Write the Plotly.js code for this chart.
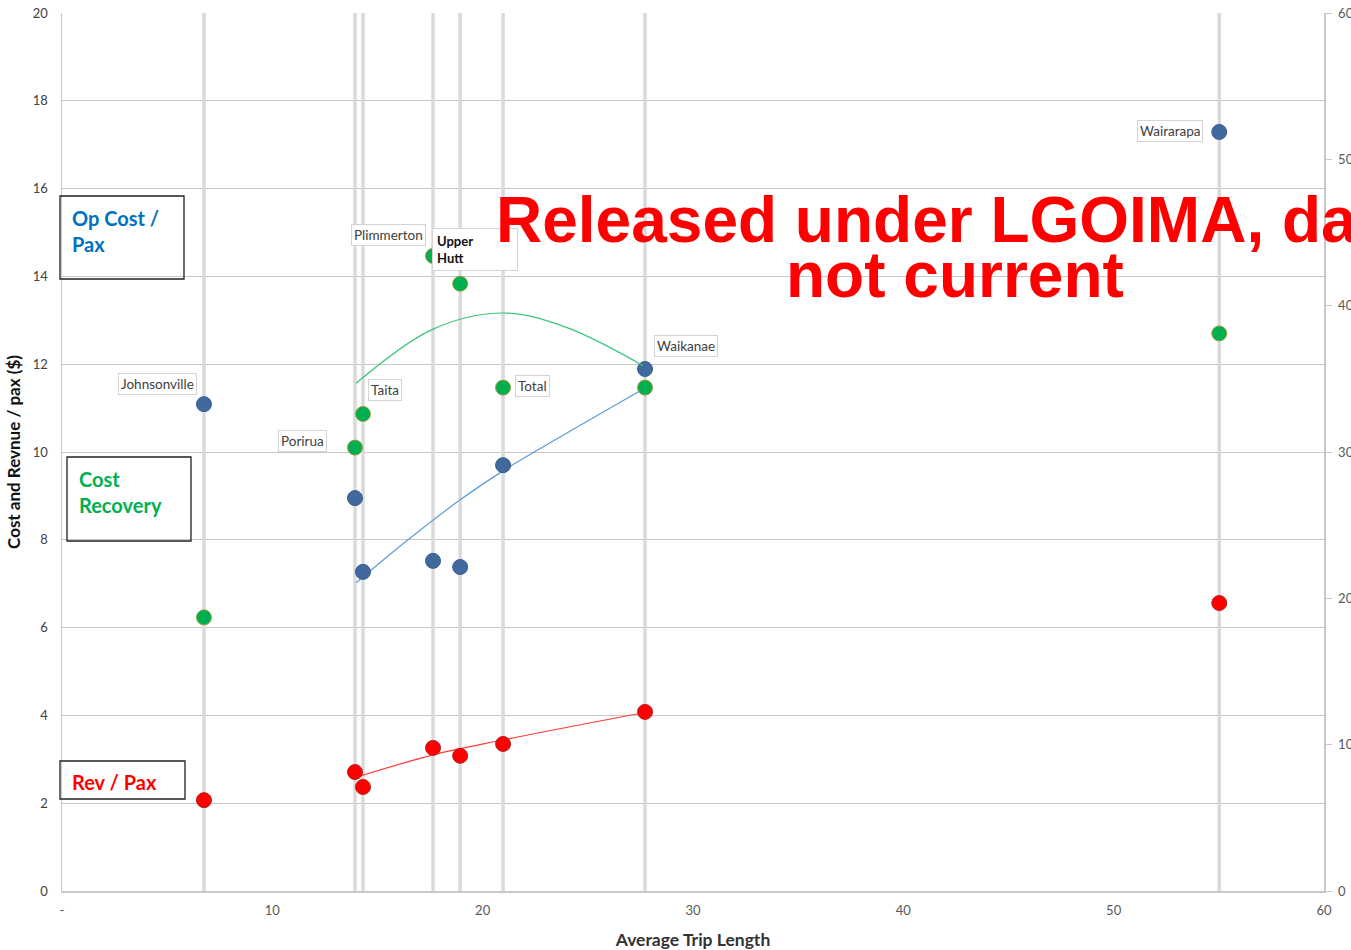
<!DOCTYPE html>
<html><head><meta charset="utf-8">
<script src="https://cdn.plot.ly/plotly-3.0.1.min.js"></script>
<style>html,body{margin:0;padding:0;background:#fff}#chart{width:1351px;height:950px}</style>
</head><body><div id="chart"></div>
<script>
// ---- data ----
const stations = ["Johnsonville","Porirua","Taita","Plimmerton","Upper Hutt","Total","Waikanae","Wairarapa"];
const tripLength = [6.75, 13.93, 14.31, 17.64, 18.93, 20.97, 27.72, 55.02];
const opCostPerPax = [11.09, 8.95, 7.27, 7.52, 7.38, 9.70, 11.89, 17.29];
const revPerPax = [2.07, 2.71, 2.37, 3.26, 3.08, 3.35, 4.08, 6.56];
const costRecovery = [18.7, 30.3, 32.6, 43.4, 41.5, 34.4, 34.4, 38.1];

// trend lines
const opCostTrendX = [13.98, 16.45, 18.93, 20.97, 22.63, 27.72];
const opCostTrendY = [7.02, 8.00, 8.91, 9.57, 10.05, 11.46];
const revTrendX = [13.98, 17.64, 20.97, 27.63];
const revTrendY = [2.59, 3.10, 3.44, 4.06];
const recoveryTrendX = [13.98, 17.64, 21.02, 24.01, 27.63];
const recoveryTrendY = [34.7, 38.4, 39.5, 38.5, 35.9];

const xTickVals = [0, 10, 20, 30, 40, 50, 60];
const xTickText = ["-", "10", "20", "30", "40", "50", "60"];
const yRange = [0, 20];

// ---- styling / placement ----
const FONT = 'Lato, "Open Sans", sans-serif';
const labelPlacement = [
  {series: 'cost', dx: -46, dy: 20},
  {series: 'rec', dx: -52, dy: 7},
  {series: 'rec', dx: 22, dy: 24},
  {series: 'rec', dx: -45, dy: 21},
  {series: 'rec', dx: 15, dy: 34, bold: true},
  {series: 'rec', dx: 29, dy: 2},
  {series: 'cost', dx: 41, dy: 23},
  {series: 'cost', dx: -49, dy: 1}
];

const dropX = [], dropY = [];
tripLength.forEach(x => { dropX.push(x, x, null); dropY.push(yRange[0], yRange[1], null); });

const traces = [
  {x: dropX, y: dropY, mode: 'lines', line: {color: '#dadada', width: 3.5}, hoverinfo: 'skip'},
  {x: opCostTrendX, y: opCostTrendY, mode: 'lines', line: {color: '#5B9BD5', width: 1.2, shape: 'spline'}},
  {x: revTrendX, y: revTrendY, mode: 'lines', line: {color: '#FF3B3B', width: 1.2, shape: 'spline'}},
  {x: tripLength, y: opCostPerPax, mode: 'markers', name: 'Op Cost / Pax',
   marker: {size: 15, color: '#41699E', line: {color: '#3A5E8E', width: 1}}},
  {x: tripLength, y: revPerPax, mode: 'markers', name: 'Rev / Pax',
   marker: {size: 15, color: '#FF0000', line: {color: '#B22222', width: 1}}},
  {x: recoveryTrendX, y: recoveryTrendY, yaxis: 'y2', mode: 'lines', line: {color: '#3CC47C', width: 1.2, shape: 'spline'}},
  {x: tripLength, y: costRecovery, yaxis: 'y2', mode: 'markers', name: 'Cost Recovery',
   marker: {size: 15, color: '#00B050', line: {color: '#9C9C3C', width: 1}}}
];

const PL = 62, PT = 13, PW = 1262, PH = 878;
const px = v => (v - PL) / PW;
const py = v => (PT + PH - v) / PH;

const annotations = [];
stations.forEach((s, i) => {
  const p = labelPlacement[i];
  const isRec = p.series === 'rec';
  const a = {
    x: tripLength[i], y: isRec ? costRecovery[i] : opCostPerPax[i],
    xref: 'x', yref: isRec ? 'y2' : 'y',
    text: p.bold ? '<b>Upper<br>Hutt</b>' : s,
    showarrow: false, xshift: p.dx, yshift: p.dy,
    font: {family: FONT, size: 13.5, color: p.bold ? '#111' : '#404040'},
    bgcolor: '#fff', bordercolor: '#d4d4d4', borderwidth: 1, borderpad: 2
  };
  if (p.bold) { a.width = 76; a.height = 33; a.align = 'left'; a.borderpad = 4; a.font.size = 13; }
  annotations.push(a);
});

// legend-like text boxes
const boxes = [
  {x0: 60, x1: 184, y0: 196, y1: 279, text: '<b>Op Cost /<br>Pax</b>', tx: 70, ty: 230.5, color: '#0070C0'},
  {x0: 67, x1: 191, y0: 457, y1: 541, text: '<b>Cost<br>Recovery</b>', tx: 77, ty: 492, color: '#00B050'},
  {x0: 60, x1: 185, y0: 761, y1: 799, text: '<b>Rev / Pax</b>', tx: 70, ty: 782, color: '#FF0000'}
];
const shapes = boxes.map(b => ({
  type: 'rect', xref: 'paper', yref: 'paper',
  x0: px(b.x0), x1: px(b.x1), y0: py(b.y1), y1: py(b.y0),
  line: {color: '#222', width: 1.3}, fillcolor: 'rgba(255,255,255,0)', layer: 'above'
}));
boxes.forEach(b => annotations.push({
  xref: 'paper', yref: 'paper', x: px(b.tx), y: py(b.ty), xanchor: 'left', yanchor: 'middle',
  text: b.text, align: 'left', showarrow: false,
  font: {family: FONT, size: 20, color: b.color}
}));

// watermark
annotations.push({xref: 'paper', yref: 'paper', x: px(955), y: py(220), xanchor: 'center', yanchor: 'middle',
  text: '<b>Released under LGOIMA, data</b>', showarrow: false,
  font: {family: '"Liberation Sans", Arial, sans-serif', size: 64, color: '#FF0000'}});
annotations.push({xref: 'paper', yref: 'paper', x: px(955), y: py(275), xanchor: 'center', yanchor: 'middle',
  text: '<b>not current</b>', showarrow: false,
  font: {family: '"Liberation Sans", Arial, sans-serif', size: 64, color: '#FF0000'}});

const layout = {
  width: 1351, height: 950,
  margin: {l: 62, r: 27, t: 13, b: 59},
  paper_bgcolor: '#fff', plot_bgcolor: '#fff',
  showlegend: false,
  font: {family: FONT, color: '#404040'},
  xaxis: {range: [0, 60], tickvals: xTickVals, ticktext: xTickText, showgrid: false, zeroline: false,
    showline: true, linecolor: '#c8c8c8', linewidth: 1.5, ticks: '', ticklabelstandoff: 7,
    tickfont: {family: FONT, size: 13, color: '#595959'},
    title: {text: '<b>Average Trip Length</b>', font: {family: FONT, size: 17.5, color: '#333'}, standoff: 16}},
  yaxis: {range: yRange, dtick: 2, showgrid: true, gridcolor: '#c8c8c8', gridwidth: 1, zeroline: false,
    showline: true, linecolor: '#c8c8c8', linewidth: 1.5, ticks: '', ticklabelstandoff: 10,
    tickfont: {family: FONT, size: 13, color: '#404040'},
    title: {text: '<b>Cost and Revnue / pax ($)</b>', font: {family: FONT, size: 17, color: '#111'}, standoff: 8}},
  yaxis2: {range: [0, 60], dtick: 10, overlaying: 'y', side: 'right', showgrid: false, zeroline: false,
    showline: true, linecolor: '#c8c8c8', linewidth: 1.5, ticks: 'outside', ticklen: 6, tickcolor: '#c8c8c8',
    ticklabelstandoff: 4, tickfont: {family: FONT, size: 13, color: '#595959'}},
  annotations: annotations,
  shapes: shapes
};

Plotly.newPlot('chart', traces, layout, {displayModeBar: false, staticPlot: true});
</script>
</body></html>
